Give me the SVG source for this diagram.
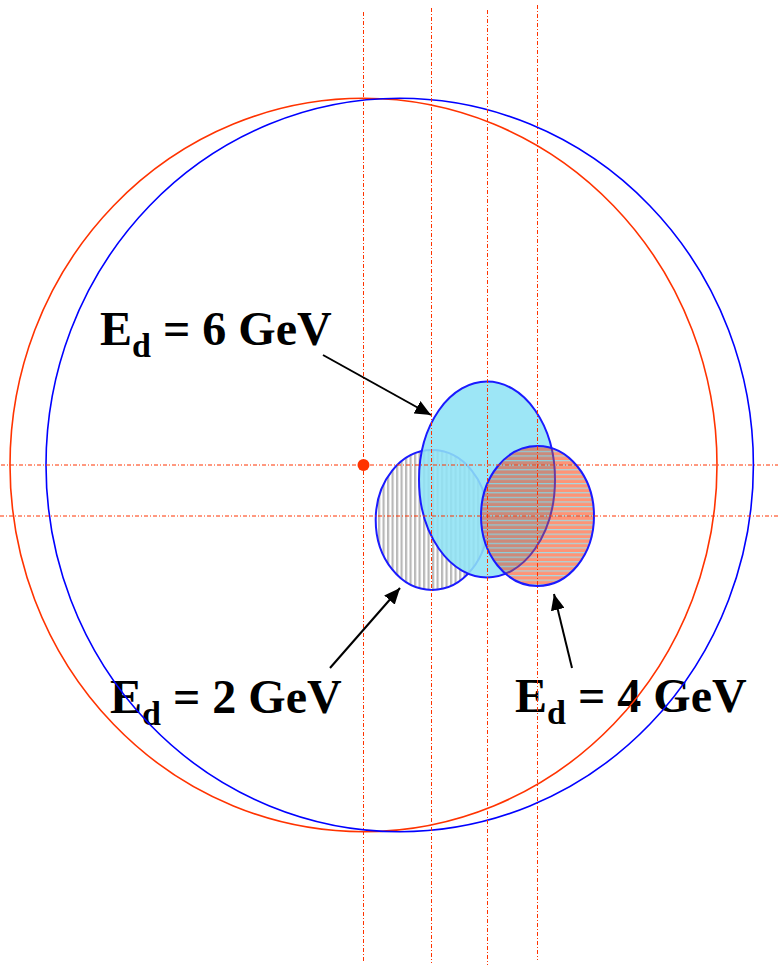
<svg xmlns="http://www.w3.org/2000/svg" width="778" height="965" viewBox="0 0 778 965">
<style>
.lbl{font-family:"Liberation Serif","Times New Roman",serif;font-weight:bold;font-size:48px;fill:#000}
.sub{font-size:34px}
.guide{stroke:#ff3300;stroke-width:1;stroke-dasharray:4 2 1 2;fill:none}
.edge{stroke:#1a1aff;stroke-width:2}
.arrow{stroke:#000;stroke-width:2;fill:none;marker-end:url(#ah)}
</style>
<defs>
<pattern id="vstripe" patternUnits="userSpaceOnUse" width="4.5" height="4"><rect width="4.5" height="4" fill="#ffffff"/><rect width="2.2" height="4" fill="#b8b8b8"/></pattern>
<pattern id="hsal" patternUnits="userSpaceOnUse" width="4" height="4.6"><rect width="4" height="4.6" fill="#ff9476"/><rect width="4" height="1.2" fill="#a6d9e2"/></pattern>
<pattern id="hbrown" patternUnits="userSpaceOnUse" width="4" height="4.6"><rect width="4" height="4.6" fill="#cc8a7a"/><rect width="4" height="1.2" fill="#8ccfdc"/></pattern>
<clipPath id="cyanClip"><ellipse cx="487" cy="479.5" rx="68" ry="98"/></clipPath>
<clipPath id="salClip"><ellipse cx="537.5" cy="516" rx="56.5" ry="70"/></clipPath>
<marker id="ah" markerUnits="userSpaceOnUse" markerWidth="18" markerHeight="14" refX="16" refY="7" orient="auto"><path d="M0,0 L16,7 L0,14 Z" fill="#000"/></marker>
</defs>

<g id="label-6gev"><text class="lbl" x="100" y="345">E<tspan class="sub" dy="12">d</tspan><tspan dy="-12"> = 6 GeV</tspan></text></g>
<g id="label-2gev"><text class="lbl" x="110" y="713">E<tspan class="sub" dy="12">d</tspan><tspan dy="-12"> = 2 GeV</tspan></text></g>
<g id="label-4gev"><text class="lbl" x="515" y="712">E<tspan class="sub" dy="12">d</tspan><tspan dy="-12"> = 4 GeV</tspan></text></g>

<g id="circle-red"><ellipse cx="363.5" cy="465" rx="353.5" ry="366.7" fill="none" stroke="#ff3300" stroke-width="1.6"/></g>
<g id="circle-blue"><ellipse cx="399.7" cy="465" rx="353.7" ry="366.7" fill="none" stroke="#0000ff" stroke-width="1.6"/></g>

<g id="ellipse-2gev"><ellipse cx="432" cy="520" rx="56.3" ry="70" fill="url(#vstripe)" class="edge"/></g>
<g id="ellipse-6gev"><ellipse cx="487" cy="479.5" rx="68" ry="98" fill="#90e3f5" fill-opacity="0.88" class="edge"/></g>
<g id="ellipse-4gev">
<ellipse cx="537.5" cy="516" rx="56.5" ry="70" fill="url(#hsal)"/>
<ellipse cx="537.5" cy="516" rx="56.5" ry="70" fill="url(#hbrown)" clip-path="url(#cyanClip)"/>
<ellipse cx="487" cy="479.5" rx="68" ry="98" fill="none" stroke="#6a3aa0" stroke-width="2" clip-path="url(#salClip)"/>
<ellipse cx="537.5" cy="516" rx="56.5" ry="70" fill="none" class="edge"/>
</g>

<g id="guides">
<line class="guide" x1="363.5" y1="12" x2="363.5" y2="963"/>
<line class="guide" x1="431.5" y1="8" x2="431.5" y2="963"/>
<line class="guide" x1="487.5" y1="10" x2="487.5" y2="965"/>
<line class="guide" x1="537.5" y1="5" x2="537.5" y2="960"/>
<line class="guide" x1="1" y1="465" x2="778" y2="465"/>
<line class="guide" x1="0" y1="516" x2="778" y2="516"/>
</g>

<g id="center-dot"><circle cx="363.5" cy="465" r="6" fill="#ff3300"/></g>

<g id="connectors">
<line class="arrow" x1="323" y1="355" x2="431" y2="415"/>
<line class="arrow" x1="330" y1="668" x2="400" y2="588"/>
<line class="arrow" x1="572" y1="668" x2="554" y2="594"/>
</g>
</svg>
